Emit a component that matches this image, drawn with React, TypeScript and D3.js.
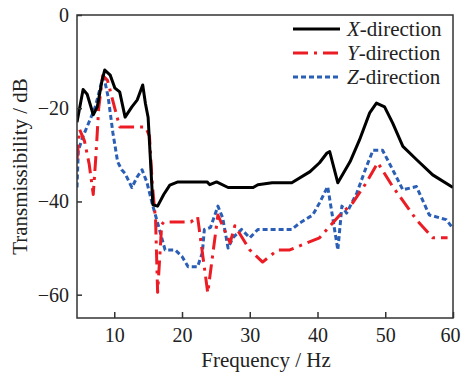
import * as d3 from 'd3';
import { useEffect, useRef } from "react";

// frequency (Hz) and transmissibility (dB)
const xFreq = [4.5, 5.4, 6.0, 6.9, 7.5, 8.2, 8.6, 9.4, 10.1, 10.8, 11.6, 12.6, 13.4, 14.2, 14.6, 15.0, 15.3, 15.7, 16.4, 17.3, 18.2, 19.4, 23.7, 24.1, 25.1, 26.8, 30.5, 31.2, 33.3, 36.2, 38.9, 40.3, 41.4, 41.8, 43.0, 44.8, 46.2, 47.7, 48.7, 49.9, 51.1, 52.6, 54.6, 57.0, 60.0];
const xDb = [-23, -16, -17, -21.4, -19.7, -14, -11.8, -12.9, -15.7, -16.5, -21.9, -19.7, -18.2, -15, -19, -22, -30, -40.7, -41, -38.5, -36.5, -35.8, -35.8, -36.4, -35.8, -37, -37, -36.4, -36, -36, -33.6, -31.7, -29.6, -29.3, -36, -31.5, -26.8, -21, -18.9, -19.7, -23.2, -28.2, -31, -34.3, -37];

const yFreq = [4.5, 4.9, 5.6, 6.3, 6.9, 7.3, 7.7, 8.3, 9.0, 10.8, 14.6, 15.2, 15.6, 16.1, 16.4, 17.0, 17.3, 21.3, 22.3, 23.8, 25.3, 27.1, 27.8, 30.0, 31.9, 34.1, 35.9, 40.3, 43.3, 45.2, 47.2, 48.9, 51.1, 54.6, 57.0, 59.2];
const yDb = [-31, -24.6, -27, -32, -38.5, -30, -20, -13, -14, -24, -24, -26, -36, -44, -59.5, -45, -44.4, -44.4, -43.3, -59.6, -42.9, -48.9, -45.2, -50.4, -53, -50.4, -50.4, -47.8, -42.9, -40.3, -36, -31.7, -36.8, -43.9, -47.8, -47.8];

const zFreq = [4.5, 4.7, 5.4, 6.7, 7.2, 8.2, 8.5, 9.1, 9.8, 10.5, 11.1, 11.6, 12.6, 13.4, 14.1, 14.8, 15.7, 16.4, 17.5, 19.0, 20.0, 20.9, 22.3, 23.0, 23.3, 24.2, 25.3, 26.0, 26.8, 27.5, 28.8, 30.0, 31.2, 36.2, 37.4, 39.3, 40.3, 41.5, 42.3, 43.0, 43.6, 44.3, 45.8, 47.2, 48.2, 49.6, 51.1, 52.6, 54.6, 56.5, 59.0, 59.8];
const zDb = [-37, -29, -26, -21.5, -19.7, -14, -13.5, -17.6, -25.3, -31.5, -33.2, -34, -37, -34.7, -33.2, -35.8, -41, -44.6, -50.4, -50.4, -51.8, -54, -54, -51, -46, -45.6, -41, -43.5, -50, -47.8, -46, -47.8, -46, -46, -44.6, -42.9, -40.3, -36.8, -44, -50.4, -41, -42.5, -38.2, -32.6, -29, -29, -33.2, -37.5, -36.8, -42.9, -43.9, -45.4];

const xTicks = [10, 20, 30, 40, 50, 60];
const yTicks = [0, -20, -40, -60];
const seriesNames = ["X", "Y", "Z"];

const W = 462;
const H = 377;
const FONT = "'Liberation Serif', 'Times New Roman', serif";

export default function App() {
    const svgRef = useRef<SVGSVGElement | null>(null);

    useEffect(() => {
        if (!svgRef.current) return;
        const margin = { top: 15, right: 9, bottom: 59, left: 77 };

        const x = d3.scaleLinear().domain([4.5, 60]).range([margin.left, W - margin.right]);
        const y = d3.scaleLinear().domain([-65, 0]).range([H - margin.bottom, margin.top]);

        const svg = d3.select(svgRef.current);
        svg.selectAll("*").remove();

        svg.append("defs").append("clipPath").attr("id", "plot-clip")
            .append("rect")
            .attr("x", x(4.5)).attr("y", y(0))
            .attr("width", x(60) - x(4.5)).attr("height", y(-65) - y(0));

        const series = [
            { f: xFreq, v: xDb, color: "#000000", dash: null },
            { f: yFreq, v: yDb, color: "#ec1c24", dash: "15 6 3 6" },
            { f: zFreq, v: zDb, color: "#2a5fb5", dash: "5 3" },
        ];

        const line = d3.line<[number, number]>()
            .x(d => x(d[0]))
            .y(d => y(d[1]));

        const plot = svg.append("g").attr("clip-path", "url(#plot-clip)");
        // draw Z first, X on top
        [...series].reverse().forEach(s => {
            const pts = s.f.map((f, i) => [f, s.v[i]] as [number, number]);
            plot.append("path")
                .datum(pts)
                .attr("fill", "none")
                .attr("stroke", s.color)
                .attr("stroke-width", 3)
                .attr("stroke-linejoin", "round")
                .attr("stroke-dasharray", s.dash)
                .attr("d", line);
        });

        // frame
        svg.append("rect")
            .attr("x", x(4.5)).attr("y", y(0))
            .attr("width", x(60) - x(4.5)).attr("height", y(-65) - y(0))
            .attr("fill", "none")
            .attr("stroke", "#333")
            .attr("stroke-width", 1.5);

        const xAxis = svg.append("g")
            .attr("transform", `translate(0,${y(-65)})`)
            .call(d3.axisBottom(x).tickValues(xTicks).tickSizeInner(-6).tickSizeOuter(0).tickPadding(10))
            .call(g => g.select(".domain").remove());
        xAxis.selectAll("line").attr("stroke", "#333").attr("stroke-width", 1.5);
        xAxis.selectAll("text")
            .attr("fill", "#222")
            .attr("dx", (d: any) => (d === 60 ? -3 : 0))
            .style("font-family", FONT)
            .style("font-size", "20px");

        const yAxis = svg.append("g")
            .attr("transform", `translate(${x(4.5)},0)`)
            .call(d3.axisLeft(y).tickValues(yTicks).tickSizeInner(-5).tickSizeOuter(0).tickPadding(8))
            .call(g => g.select(".domain").remove());
        yAxis.selectAll("line").attr("stroke", "#333").attr("stroke-width", 1.5);
        yAxis.selectAll("text")
            .attr("fill", "#222")
            .style("font-family", FONT)
            .style("font-size", "20px");

        svg.append("text")
            .attr("x", (x(4.5) + x(60)) / 2 + 1)
            .attr("y", 367)
            .attr("text-anchor", "middle")
            .attr("fill", "#222")
            .style("font-family", FONT)
            .style("font-size", "21px")
            .text("Frequency / Hz");

        svg.append("text")
            .attr("transform", `translate(27,${(y(0) + y(-65)) / 2}) rotate(-90)`)
            .attr("text-anchor", "middle")
            .attr("fill", "#222")
            .style("font-family", FONT)
            .style("font-size", "21px")
            .text("Transmissibility / dB");

        // legend
        const legend = svg.append("g");
        series.forEach((s, i) => {
            const ly = 29 + i * 24;
            legend.append("line")
                .attr("x1", 293).attr("x2", 340)
                .attr("y1", ly).attr("y2", ly)
                .attr("stroke", s.color)
                .attr("stroke-width", 3)
                .attr("stroke-dasharray", s.dash);
            const t = legend.append("text")
                .attr("x", 347)
                .attr("y", ly + 7)
                .attr("fill", "#222")
                .style("font-family", FONT)
                .style("font-size", "21px");
            t.append("tspan").style("font-style", "italic").text(seriesNames[i]);
            t.append("tspan").text("-direction");
        });
    }, []);

    return (
        <svg ref={svgRef} width={W} height={H}
             style={{ position: "absolute", left: 0, top: 0, background: "white" }} />
    );
}
